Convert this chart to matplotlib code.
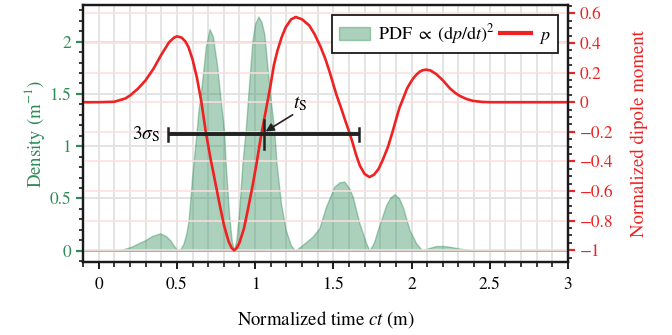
import matplotlib
matplotlib.use('Agg')
from matplotlib import pyplot as plt
from matplotlib.ticker import MultipleLocator, FuncFormatter
from matplotlib.patches import Patch
from matplotlib.lines import Line2D

plt.rcParams['font.family'] = ['STIXGeneral', 'DejaVu Serif']
plt.rcParams['mathtext.fontset'] = 'stix'

# normalized dipole moment p(ct)
t_p = [-0.1, 0.0, 0.1, 0.17, 0.2, 0.25, 0.3, 0.35, 0.4, 0.45, 0.48, 0.5, 0.53, 0.555, 0.575, 0.6,
       0.628, 0.657, 0.684, 0.715, 0.748, 0.775, 0.801, 0.83, 0.85, 0.865, 0.88, 0.9, 0.929, 0.955,
       0.983, 1.01, 1.036, 1.068, 1.1, 1.12, 1.143, 1.17, 1.196, 1.23, 1.26, 1.3, 1.346,
       1.38, 1.42, 1.45, 1.474, 1.496, 1.52, 1.549, 1.575, 1.603, 1.625, 1.645, 1.67,
       1.7, 1.731, 1.76, 1.79, 1.816, 1.85, 1.88, 1.9, 1.923, 1.95, 1.97, 1.987, 2.01, 2.03,
       2.051, 2.07, 2.094, 2.12, 2.158, 2.2, 2.244, 2.28, 2.308, 2.35, 2.393, 2.45, 2.5, 3.0]
p = [0.0, 0.0, 0.003, 0.025, 0.045, 0.09, 0.148, 0.225, 0.32, 0.405, 0.435, 0.445, 0.437, 0.41,
     0.37, 0.29, 0.167, 0.0, -0.195, -0.38, -0.555, -0.70, -0.83, -0.94, -0.985, -1.0, -0.99,
     -0.95, -0.853, -0.72, -0.57, -0.41, -0.24, -0.06, 0.122, 0.25, 0.349, 0.44, 0.507, 0.56,
     0.576, 0.56, 0.519, 0.46, 0.371, 0.29, 0.213, 0.135, 0.05, -0.037, -0.12, -0.205, -0.28,
     -0.354, -0.43, -0.485, -0.506, -0.49, -0.45, -0.39, -0.30, -0.195, -0.12, -0.037, 0.035,
     0.09, 0.122, 0.16, 0.185, 0.205, 0.216, 0.22, 0.215, 0.19, 0.148, 0.095, 0.062, 0.043,
     0.022, 0.009, 0.002, 0.0, 0.0]

# probability density ~ (dp/dt)^2
t_pdf = [-0.1, 0.1, 0.15, 0.212, 0.26, 0.297, 0.34, 0.393, 0.43, 0.457, 0.485, 0.506, 0.525,
         0.543, 0.56, 0.575, 0.596, 0.617, 0.639, 0.66, 0.685, 0.709, 0.73, 0.758, 0.78,
         0.801, 0.812, 0.833, 0.85, 0.865, 0.88, 0.897, 0.919, 0.94, 0.962, 0.983, 1.0,
         1.021, 1.04, 1.058, 1.079, 1.1, 1.122, 1.137, 1.165, 1.196, 1.228, 1.256, 1.303,
         1.367, 1.41, 1.453, 1.506, 1.54, 1.571, 1.6, 1.624, 1.645, 1.667, 1.71, 1.731,
         1.76, 1.784, 1.838, 1.865, 1.891, 1.92, 1.944, 1.987, 2.03, 2.07, 2.11, 2.158,
         2.2, 2.244, 2.308, 2.39, 2.5, 3.0]
pdf = [0.0, 0.0, 0.01, 0.04, 0.075, 0.10, 0.14, 0.166, 0.14, 0.10, 0.04, 0.0, 0.02,
       0.07, 0.16, 0.29, 0.68, 1.0, 1.35, 1.6, 1.95, 2.12, 2.05, 1.76, 1.44,
       1.155, 0.836, 0.358, 0.1, 0.0, 0.1, 0.358, 0.836, 1.155, 1.6, 2.01, 2.17,
       2.24, 2.19, 2.08, 1.76, 1.44, 1.155, 0.836, 0.454, 0.198, 0.055, 0.0, 0.055,
       0.134, 0.214, 0.42, 0.612, 0.655, 0.66, 0.6, 0.517, 0.39, 0.262, 0.07, 0.0,
       0.08, 0.198, 0.437, 0.51, 0.54, 0.5, 0.42, 0.198, 0.07, 0.0, 0.025, 0.045,
       0.045, 0.038, 0.02, 0.003, 0.0, 0.0]

t_s = 1.055
sigma_s = 0.204
bar_level = -0.218

green = '#2e8b57'
red = '#ee2222'


def fmt(v, pos):
    v = round(v, 6)
    if v == 0:
        v = 0
    return ('%g' % v).replace('-', '\u2212')


fig = plt.figure(figsize=(6.72, 3.35), dpi=100)
ax = fig.add_axes([83 / 672, 73 / 335, 485 / 672, 257 / 335])
ax2 = ax.twinx()

ax.fill_between(t_pdf, pdf, 0, facecolor=green, alpha=0.4, edgecolor=green, linewidth=1)
ax.set_xlim(-0.1, 3)
ax.set_ylim(-0.108, 2.35)
ax.xaxis.set_major_locator(MultipleLocator(0.5))
ax.xaxis.set_minor_locator(MultipleLocator(0.1))
ax.yaxis.set_major_locator(MultipleLocator(0.5))
ax.yaxis.set_minor_locator(MultipleLocator(0.1))
ax.xaxis.set_major_formatter(FuncFormatter(fmt))
ax.yaxis.set_major_formatter(FuncFormatter(fmt))
ax.set_axisbelow(True)
ax.grid(True, which='major', axis='y', color='#e2e2e2', lw=1.3)
ax.grid(True, which='both', axis='x', color='#e2e2e2', lw=1.3)

ax2.plot(t_p, p, color=red, lw=1.9)
ax2.set_ylim(-1.08, 0.657)
ax2.yaxis.set_major_locator(MultipleLocator(0.2))
ax2.yaxis.set_minor_locator(MultipleLocator(0.05))
ax2.yaxis.set_major_formatter(FuncFormatter(fmt))
ax2.grid(True, which='major', axis='y', color='#fbdede', lw=1.1)

# 3 sigma interval around t_s
ax2.plot([t_s - 3 * sigma_s, t_s + 3 * sigma_s], [bar_level, bar_level], color='#222222', lw=2.8,
         solid_capstyle='butt')
for xe in [t_s - 3 * sigma_s, t_s + 3 * sigma_s]:
    ax2.plot([xe, xe], [bar_level - 0.045, bar_level + 0.045], color='#222222', lw=1.8)
ax2.plot([t_s, t_s], [bar_level - 0.095, bar_level + 0.095], color='#222222', lw=1.8)
ax2.text(t_s - 3 * sigma_s - 0.05, bar_level, r'$3\sigma_\mathrm{S}$', ha='right', va='center',
         fontsize=14)
ax2.annotate('', xy=(t_s + 0.012, bar_level + 0.02), xytext=(1.24, -0.085),
             arrowprops=dict(arrowstyle='-|>', color='#222222', lw=1.2, mutation_scale=12,
                             shrinkA=0, shrinkB=0))
ax2.text(1.245, -0.07, r'$t_\mathrm{S}$', ha='left', va='bottom', fontsize=14)

for a in (ax, ax2):
    for s in a.spines.values():
        s.set_linewidth(1.6)
        s.set_color('#1a1a1a')

ax.tick_params(axis='x', which='major', direction='out', length=5, width=1.4, labelsize=12.5,
               color='#1a1a1a', pad=6)
ax.tick_params(axis='x', which='minor', direction='out', length=3.5, width=1.2, color='#1a1a1a')
ax.tick_params(axis='y', which='major', direction='out', length=5, width=1.6, labelsize=12.5,
               color=green, labelcolor=green)
ax.tick_params(axis='y', which='minor', direction='out', length=3, width=1.2, color='#1a1a1a')
ax2.tick_params(axis='y', which='major', direction='out', length=5, width=1.6, labelsize=12.5,
                color=red, labelcolor=red)
ax2.tick_params(axis='y', which='minor', direction='out', length=3, width=1.2, color='#1a1a1a')

ax.set_xlabel(r'Normalized time $ct$ (m)', fontsize=13.5, labelpad=11)
ax.set_ylabel(r'Density (m$^{-1}$)', fontsize=13.5, color=green, labelpad=2)
ax2.set_ylabel('Normalized dipole moment', fontsize=13.5, color=red, labelpad=12)

handles = [Patch(facecolor=green, alpha=0.4, edgecolor=green),
           Line2D([], [], color=red, lw=3)]
labels = [r'PDF $\propto$ (d$p$/d$t$)$^2$', r'$p$']
leg = ax2.legend(handles, labels, loc='upper right', ncol=2, fontsize=13, fancybox=False,
                 framealpha=1, edgecolor='#1a1a1a', handlelength=1.7, handletextpad=0.45,
                 columnspacing=0.3, borderaxespad=0.55, borderpad=0.4)
leg.get_frame().set_linewidth(1.3)

fig.savefig('out.png', dpi=100)
